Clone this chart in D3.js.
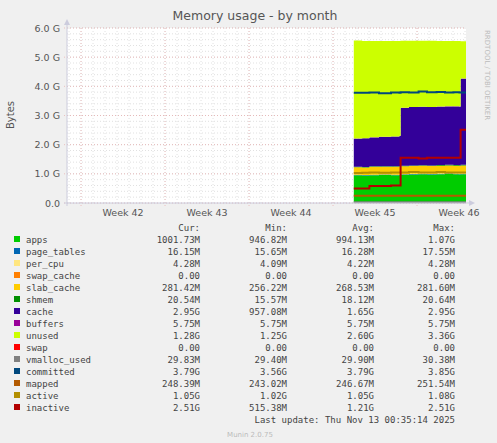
<!DOCTYPE html>
<html>
<head>
<meta charset="utf-8">
<script src="https://d3js.org/d3.v7.min.js"></script>
<style>
  body { margin: 0; background: #f0f0f0; }
  text { font-family: "DejaVu Sans", sans-serif; fill: #555; }
  .mono { font-family: "DejaVu Sans Mono", monospace; font-size: 9px; fill: #444; }
</style>
</head>
<body>
<div id="chart"></div>
<script>
// days since the left edge of the plot
const days = [23.9, 24.6, 25.2, 26, 27, 27.7, 27.8, 28.5, 29.3, 30, 30.8, 31.5, 32.2, 32.7, 32.8, 33.25];
const weeks = ["Week 42", "Week 43", "Week 44", "Week 45", "Week 46"];
const yTicks = [0, 1, 2, 3, 4, 5, 6];

// stacked areas (GB)
const apps        = [0.95, 0.94, 0.95, 0.96, 0.95, 0.96, 0.97, 0.98, 0.99, 0.98, 0.99, 1.00, 0.99, 0.98, 0.99, 0.98];
const page_tables = [0.016, 0.016, 0.016, 0.016, 0.016, 0.016, 0.016, 0.016, 0.016, 0.016, 0.016, 0.016, 0.016, 0.016, 0.016, 0.016];
const per_cpu     = [0.004, 0.004, 0.004, 0.004, 0.004, 0.004, 0.004, 0.004, 0.004, 0.004, 0.004, 0.004, 0.004, 0.004, 0.004, 0.004];
const swap_cache  = [0, 0, 0, 0, 0, 0, 0, 0, 0, 0, 0, 0, 0, 0, 0, 0];
const slab_cache  = [0.26, 0.26, 0.27, 0.26, 0.27, 0.27, 0.27, 0.27, 0.27, 0.27, 0.27, 0.27, 0.27, 0.27, 0.28, 0.28];
const shmem       = [0.016, 0.016, 0.017, 0.017, 0.018, 0.018, 0.018, 0.018, 0.018, 0.018, 0.019, 0.019, 0.02, 0.02, 0.02, 0.02];
const cache       = [0.96, 0.98, 0.99, 1.01, 1.02, 1.03, 1.98, 2.0, 2.0, 2.0, 2.0, 2.0, 2.01, 2.01, 2.95, 2.95];
const buffers     = [0.006, 0.006, 0.006, 0.006, 0.006, 0.006, 0.006, 0.006, 0.006, 0.006, 0.006, 0.006, 0.006, 0.006, 0.006, 0.006];
const unused      = [3.36, 3.33, 3.3, 3.28, 3.27, 3.25, 2.3, 2.27, 2.26, 2.27, 2.25, 2.24, 2.24, 2.25, 1.28, 1.28];
const swap        = [0, 0, 0, 0, 0, 0, 0, 0, 0, 0, 0, 0, 0, 0, 0, 0];
// lines (GB)
const vmalloc_used= [0.029, 0.029, 0.03, 0.03, 0.03, 0.03, 0.03, 0.03, 0.03, 0.03, 0.03, 0.03, 0.03, 0.03, 0.03, 0.03];
const committed   = [3.78, 3.78, 3.79, 3.76, 3.79, 3.78, 3.8, 3.79, 3.82, 3.8, 3.81, 3.79, 3.8, 3.79, 3.79, 3.79];
const mapped      = [0.245, 0.246, 0.246, 0.247, 0.247, 0.247, 0.247, 0.247, 0.247, 0.247, 0.247, 0.247, 0.247, 0.247, 0.248, 0.248];
const active      = [1.03, 1.04, 1.05, 1.04, 1.05, 1.05, 1.05, 1.06, 1.05, 1.05, 1.06, 1.05, 1.05, 1.05, 1.05, 1.05];
const inactive    = [0.5, 0.5, 0.58, 0.58, 0.6, 0.6, 1.55, 1.55, 1.53, 1.55, 1.55, 1.55, 1.55, 1.55, 2.51, 2.51];

const areaNames = ["apps","page_tables","per_cpu","swap_cache","slab_cache","shmem","cache","buffers","unused","swap"];
const areaVals = [apps,page_tables,per_cpu,swap_cache,slab_cache,shmem,cache,buffers,unused,swap];
const lineNames = ["vmalloc_used","committed","mapped","active","inactive"];
const lineVals = [vmalloc_used,committed,mapped,active,inactive];
const colors = ["#00cc00","#0066b3","#ffe680","#ff8000","#ffcc00","#008f00","#330099","#990099","#ccff00","#ff0000",
                "#808080","#00487d","#b35a00","#b38f00","#b30000"];
const legendRows = [
  ["1001.73M","946.82M","994.13M","1.07G"],
  ["16.15M","15.65M","16.28M","17.55M"],
  ["4.28M","4.09M","4.22M","4.28M"],
  ["0.00","0.00","0.00","0.00"],
  ["281.42M","256.22M","268.53M","281.60M"],
  ["20.54M","15.57M","18.12M","20.64M"],
  ["2.95G","957.08M","1.65G","2.95G"],
  ["5.75M","5.75M","5.75M","5.75M"],
  ["1.28G","1.25G","2.60G","3.36G"],
  ["0.00","0.00","0.00","0.00"],
  ["29.83M","29.40M","29.90M","30.38M"],
  ["3.79G","3.56G","3.79G","3.85G"],
  ["248.39M","243.02M","246.67M","251.54M"],
  ["1.05G","1.02G","1.05G","1.08G"],
  ["2.51G","515.38M","1.21G","2.51G"]
];

const W = 497, H = 443;
const svg = d3.select("#chart").append("svg").attr("width", W).attr("height", H);
const x = d3.scaleLinear().domain([0, 33.25]).range([67, 466]);
const y = d3.scaleLinear().domain([0, 6]).range([203, 28]);

svg.append("rect").attr("x", 67).attr("y", 28).attr("width", 399).attr("height", 175).attr("fill", "#fff");

// minor grid
const g = svg.append("g").attr("stroke-width", 0.6).attr("stroke-dasharray", "1,2");
d3.range(0, 34).forEach(d => g.append("line").attr("x1", x(d + 0.17)).attr("x2", x(d + 0.17)).attr("y1", 28).attr("y2", 203).attr("stroke", "#ccc"));
d3.range(0, 6.01, 0.2).forEach(v => g.append("line").attr("x1", 67).attr("x2", 466).attr("y1", y(v)).attr("y2", y(v)).attr("stroke", "#ccc"));
// major grid
[1.17, 8.17, 15.17, 22.17, 29.17].forEach(d => g.append("line").attr("x1", x(d)).attr("x2", x(d)).attr("y1", 28).attr("y2", 206).attr("stroke", "#e8a0a0"));
yTicks.forEach(v => g.append("line").attr("x1", 64).attr("x2", 466).attr("y1", y(v)).attr("y2", y(v)).attr("stroke", "#e8a0a0"));

// stacked areas
const table = days.map((d, i) => { const o = {d}; areaNames.forEach((n, k) => o[n] = areaVals[k][i]); return o; });
const series = d3.stack().keys(areaNames)(table);
const area = d3.area().curve(d3.curveStepAfter).x(p => x(p.data.d)).y0(p => y(p[0])).y1(p => y(p[1]));
svg.append("g").selectAll("path").data(series).join("path")
  .attr("d", area).attr("fill", (s, i) => colors[i]);

const line = d3.line().curve(d3.curveStepAfter).x((v, i) => x(days[i])).y(v => y(v));
svg.append("g").selectAll("path").data(lineVals).join("path")
  .attr("d", line).attr("fill", "none").attr("stroke-width", 2).attr("stroke", (s, i) => colors[10 + i]);

// axes
svg.append("line").attr("x1", 67).attr("x2", 67).attr("y1", 22).attr("y2", 206).attr("stroke", "#ccd").attr("stroke-width", 1);
svg.append("line").attr("x1", 64).attr("x2", 470).attr("y1", 203).attr("y2", 203).attr("stroke", "#ccd");
svg.append("path").attr("d", "M64,25 L70,25 L67,19 Z").attr("fill", "#ccd");
svg.append("path").attr("d", "M469,200 L469,206 L475,203 Z").attr("fill", "#ccd");

yTicks.forEach(v => svg.append("text").attr("x", 60).attr("y", y(v) + 3.5).attr("text-anchor", "end")
  .attr("font-size", 9.5).text(v === 0 ? "0.0" : v.toFixed(1) + " G"));
weeks.forEach((w, i) => svg.append("text").attr("x", x(4.67 + 7 * i)).attr("y", 216).attr("text-anchor", "middle")
  .attr("font-size", 9.5).text(w));

svg.append("text").attr("x", 255).attr("y", 20).attr("text-anchor", "middle").attr("font-size", 12.5).text("Memory usage - by month");
svg.append("text").attr("transform", "translate(14,115) rotate(-90)").attr("text-anchor", "middle").attr("font-size", 10).text("Bytes");
svg.append("text").attr("transform", "translate(485,30) rotate(90)").attr("font-size", 7).attr("fill", "#ccc").style("fill", "#bbb").text("RRDTOOL / TOBI OETIKER");

// legend
const colX = [200, 287, 374, 455];
["Cur:", "Min:", "Avg:", "Max:"].forEach((h, i) => svg.append("text").attr("class", "mono").attr("x", colX[i]).attr("y", 231).attr("text-anchor", "end").text(h));
const allNames = areaNames.concat(lineNames);
allNames.forEach((n, i) => {
  const yy = 243 + i * 12;
  svg.append("rect").attr("x", 14).attr("y", yy - 7).attr("width", 6).attr("height", 6).attr("fill", colors[i]);
  svg.append("text").attr("class", "mono").attr("x", 26).attr("y", yy).text(n);
  legendRows[i].forEach((v, k) => svg.append("text").attr("class", "mono").attr("x", colX[k]).attr("y", yy).attr("text-anchor", "end").text(v));
});
svg.append("text").attr("class", "mono").attr("x", 455).attr("y", 423).attr("text-anchor", "end").text("Last update: Thu Nov 13 00:35:14 2025");
svg.append("text").attr("x", 250).attr("y", 437).attr("text-anchor", "middle").attr("font-size", 7).style("fill", "#bbb").text("Munin 2.0.75");
</script>
</body>
</html>
